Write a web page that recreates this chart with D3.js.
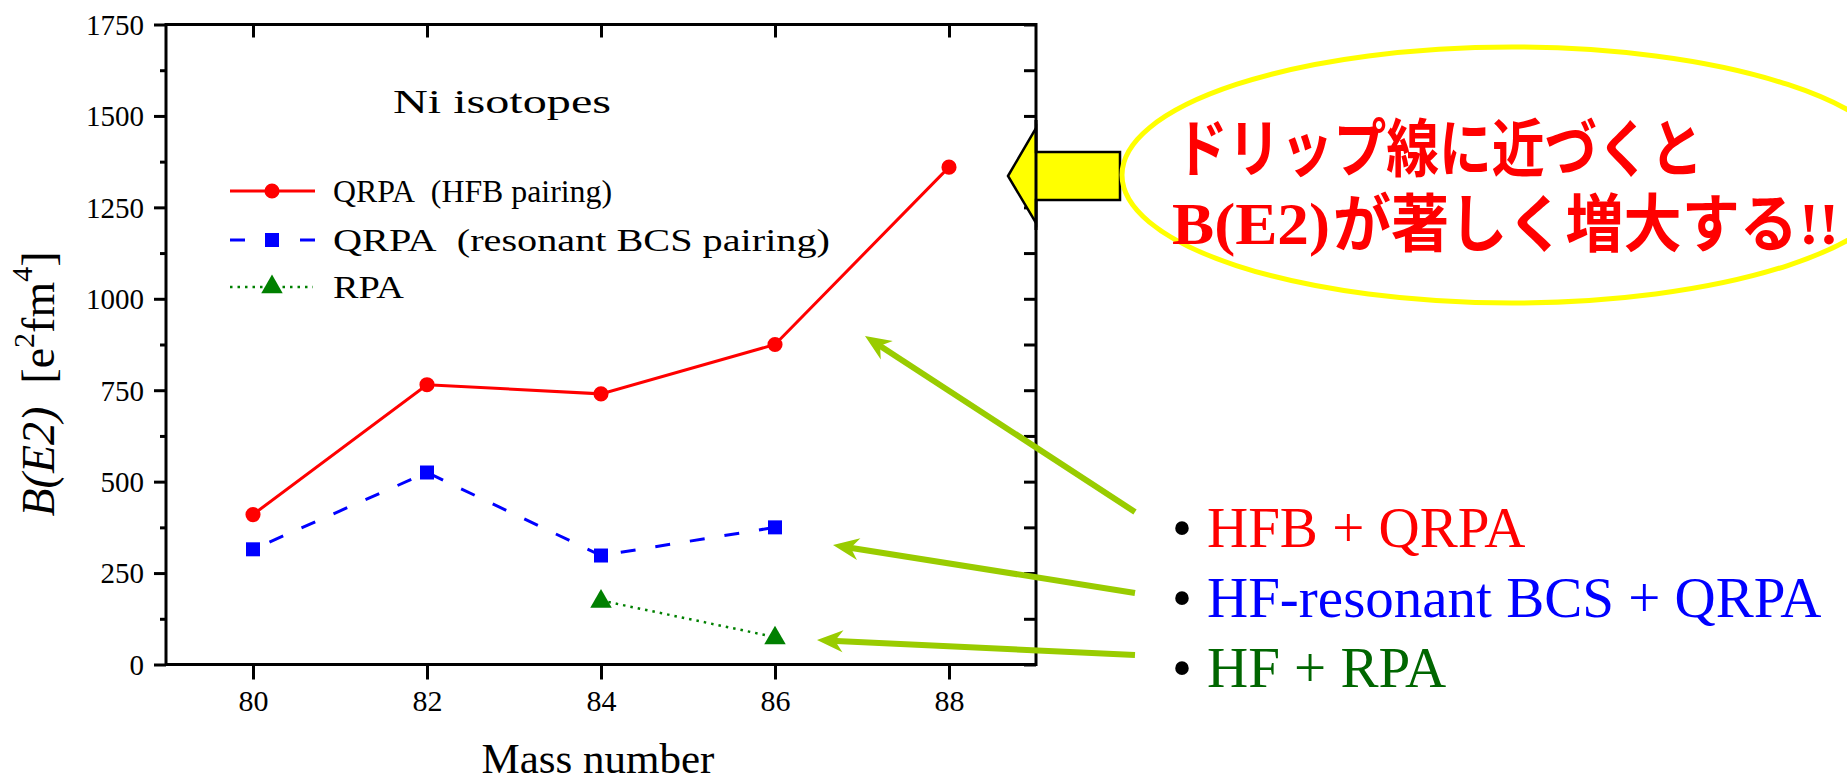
<!DOCTYPE html>
<html>
<head>
<meta charset="utf-8">
<script src="https://cdn.jsdelivr.net/npm/d3@7"></script>
<style>
  html, body { margin: 0; padding: 0; background: #ffffff; }
  svg { display: block; }
</style>
</head>
<body>
<svg id="chart" width="1847" height="782"></svg>
<script>
// ---------------- data ----------------
const massNumbers = [80, 82, 84, 86, 88];
const hfbQrpa = [410, 765, 740, 875, 1360];
const bcsMass = [80, 82, 84, 86];
const bcsQrpa = [315, 525, 298, 375];
const rpaMass = [84, 86];
const rpaValues = [175, 75];
const xTickValues = [80, 82, 84, 86, 88];
const yTickValues = [0, 250, 500, 750, 1000, 1250, 1500, 1750];
const yMinorTickValues = [125, 375, 625, 875, 1125, 1375, 1625];
const legendLabels = ["QRPA\u00a0\u00a0(HFB pairing)", "QRPA\u00a0\u00a0(resonant BCS pairing)", "RPA"];
const chartTitle = "Ni isotopes";
const xAxisTitle = "Mass number";
const bulletLabels = ["HFB + QRPA", "HF-resonant BCS + QRPA", "HF + RPA"];
const calloutLine1 = "ドリップ線に近づくと";
const calloutLine2a = "B(E2)";
const calloutLine2b = "が著しく増大する";
const calloutLine2c = "!!";

// ---------------- layout ----------------
const svg = d3.select("#chart");
const L = 166, R = 1036, T = 24.5, B = 664.5;
const x = d3.scaleLinear().domain([79, 89]).range([L, R]);
const y = d3.scaleLinear().domain([0, 1750]).range([B, T]);
const serif = '"Liberation Serif", "Times New Roman", serif';

const red = "#ff0000", blue = "#0000ff", green = "#008000", textGreen = "#006600";
const arrowGreen = "#99cc00";

// ---------------- axes ----------------
function styleAxis(g) {
  g.attr("font-family", serif);
  g.select(".domain").remove();
  g.selectAll(".tick line").attr("stroke", "#000").attr("stroke-width", 3);
}
// left major
svg.append("g").attr("transform", `translate(${L},0)`)
  .call(d3.axisLeft(y).tickValues(yTickValues).tickSize(12).tickPadding(10).tickFormat(d3.format("d")))
  .call(styleAxis)
  .call(g => g.selectAll("text").attr("font-family", serif).attr("font-size", 29).attr("fill", "#000").attr("dy", "0.34em"));
// left minor
svg.append("g").attr("transform", `translate(${L},0)`)
  .call(d3.axisLeft(y).tickValues(yMinorTickValues).tickSize(6).tickFormat(""))
  .call(styleAxis);
// right (inward)
svg.append("g").attr("transform", `translate(${R},0)`)
  .call(d3.axisLeft(y).tickValues(yTickValues.concat(yMinorTickValues)).tickSize(12).tickFormat(""))
  .call(styleAxis);
// bottom
svg.append("g").attr("transform", `translate(0,${B})`)
  .call(d3.axisBottom(x).tickValues(xTickValues).tickSize(15).tickFormat(d3.format("d")))
  .call(styleAxis)
  .call(g => g.selectAll("text").attr("font-family", serif).attr("font-size", 30).attr("fill", "#000").attr("y", 46).attr("dy", 0));
// top (inward)
svg.append("g").attr("transform", `translate(0,${T})`)
  .call(d3.axisBottom(x).tickValues(xTickValues).tickSize(13).tickFormat(""))
  .call(styleAxis);

// frame
svg.append("rect").attr("x", L).attr("y", T).attr("width", R - L).attr("height", B - T)
  .attr("fill", "none").attr("stroke", "#000").attr("stroke-width", 3);

// axis titles
svg.append("text").attr("x", 598).attr("y", 773).attr("text-anchor", "middle")
  .attr("font-family", serif).attr("font-size", 43).text(xAxisTitle);

const yt = svg.append("text").attr("transform", "translate(54,384) rotate(-90)")
  .attr("text-anchor", "middle").attr("font-family", serif).attr("font-size", 46);
yt.append("tspan").attr("font-style", "italic").text(calloutLine2a);
yt.append("tspan").text("\u00a0\u00a0[e");
yt.append("tspan").attr("dy", -20).attr("font-size", 30).text("2");
yt.append("tspan").attr("dy", 20).text("fm");
yt.append("tspan").attr("dy", -22).attr("font-size", 30).text("4");
yt.append("tspan").attr("dy", 22).text("]");

// chart title
svg.append("text").attr("x", 393).attr("y", 113).attr("font-family", serif)
  .attr("font-size", 33).attr("textLength", 218).attr("lengthAdjust", "spacingAndGlyphs").text(chartTitle);

// ---------------- series ----------------
const line = d3.line().x(d => x(d[0])).y(d => y(d[1]));
const hfbData = massNumbers.map((m, i) => [m, hfbQrpa[i]]);
const bcsData = bcsMass.map((m, i) => [m, bcsQrpa[i]]);
const rpaData = rpaMass.map((m, i) => [m, rpaValues[i]]);

svg.append("path").datum(hfbData).attr("d", line).attr("fill", "none")
  .attr("stroke", red).attr("stroke-width", 3);
svg.append("path").datum(bcsData).attr("d", line).attr("fill", "none")
  .attr("stroke", blue).attr("stroke-width", 3).attr("stroke-dasharray", "15,20").attr("stroke-dashoffset", -18);
svg.append("path").datum(rpaData).attr("d", line).attr("fill", "none")
  .attr("stroke", green).attr("stroke-width", 2.5).attr("stroke-dasharray", "2.5,5");

const circle = d3.symbol().type(d3.symbolCircle).size(180);
const square = d3.symbol().type(d3.symbolSquare).size(196);
const tri = d3.symbol().type(d3.symbolTriangle).size(200);

svg.selectAll(".hfb").data(hfbData).join("path").attr("class", "hfb")
  .attr("transform", d => `translate(${x(d[0])},${y(d[1])})`).attr("d", circle).attr("fill", red);
svg.selectAll(".bcs").data(bcsData).join("path").attr("class", "bcs")
  .attr("transform", d => `translate(${x(d[0])},${y(d[1])})`).attr("d", square).attr("fill", blue);
svg.selectAll(".rpa").data(rpaData).join("path").attr("class", "rpa")
  .attr("transform", d => `translate(${x(d[0])},${y(d[1]) + 1})`).attr("d", tri).attr("fill", green);

// ---------------- legend ----------------
const legY = [191, 240, 287];
const legLen = [279, 497, 71];
const lg = svg.append("g");
// red
lg.append("line").attr("x1", 230).attr("x2", 315).attr("y1", legY[0]).attr("y2", legY[0]).attr("stroke", red).attr("stroke-width", 3);
lg.append("path").attr("transform", `translate(272,${legY[0]})`).attr("d", circle).attr("fill", red);
// blue
lg.append("line").attr("x1", 230).attr("x2", 245).attr("y1", legY[1]).attr("y2", legY[1]).attr("stroke", blue).attr("stroke-width", 3);
lg.append("line").attr("x1", 300).attr("x2", 315).attr("y1", legY[1]).attr("y2", legY[1]).attr("stroke", blue).attr("stroke-width", 3);
lg.append("path").attr("transform", `translate(272,${legY[1]})`).attr("d", square).attr("fill", blue);
// green
lg.append("line").attr("x1", 230).attr("x2", 313).attr("y1", legY[2]).attr("y2", legY[2]).attr("stroke", green).attr("stroke-width", 2.5).attr("stroke-dasharray", "2.5,5");
lg.append("path").attr("transform", `translate(272,${legY[2]})`).attr("d", tri).attr("fill", green);
legendLabels.forEach((t, i) => {
  lg.append("text").attr("x", 333).attr("y", legY[i] + 11).attr("font-family", serif)
    .attr("font-size", 31).attr("textLength", legLen[i]).attr("lengthAdjust", "spacingAndGlyphs").text(t);
});

// ---------------- annotations ----------------
// yellow block arrow
svg.append("path")
  .attr("d", "M1008,176 L1036,128 L1036,152 L1120,152 L1120,200 L1036,200 L1036,223 Z")
  .attr("fill", "#ffff00").attr("stroke", "#000").attr("stroke-width", 2.5).attr("stroke-linejoin", "miter");
svg.append("line").attr("x1", R).attr("x2", R).attr("y1", 120).attr("y2", 230).attr("stroke", "#000").attr("stroke-width", 3);

// yellow ellipse
svg.append("ellipse").attr("cx", 1512).attr("cy", 175).attr("rx", 390).attr("ry", 128)
  .attr("fill", "none").attr("stroke", "#ffff00").attr("stroke-width", 5);

const jp = '"Noto Sans CJK JP", "Noto Sans CJK SC", sans-serif';
svg.append("text").attr("x", 1175).attr("y", 171).attr("font-family", jp).attr("font-weight", "bold")
  .attr("font-size", 63).attr("fill", red).attr("textLength", 528).attr("lengthAdjust", "spacingAndGlyphs")
  .text(calloutLine1);
svg.append("text").attr("x", 1172).attr("y", 244).attr("font-family", serif).attr("font-weight", "bold")
  .attr("font-size", 60).attr("fill", red).attr("textLength", 158).attr("lengthAdjust", "spacingAndGlyphs")
  .text(calloutLine2a);
svg.append("text").attr("x", 1333).attr("y", 246).attr("font-family", jp).attr("font-weight", "bold")
  .attr("font-size", 63).attr("fill", red).attr("textLength", 465).attr("lengthAdjust", "spacingAndGlyphs")
  .text(calloutLine2b);
svg.append("text").attr("x", 1799).attr("y", 244).attr("font-family", serif).attr("font-weight", "bold")
  .attr("font-size", 60).attr("fill", red).text(calloutLine2c);

// bullets
const bulletColors = [red, blue, textGreen];
const bulletBase = [547, 617, 687];
bulletLabels.forEach((t, i) => {
  svg.append("text").attr("x", 1172).attr("y", bulletBase[i]).attr("font-family", serif)
    .attr("font-size", 57).attr("fill", "#000").text("\u2022");
  svg.append("text").attr("x", 1207).attr("y", bulletBase[i]).attr("font-family", serif)
    .attr("font-size", 57).attr("fill", bulletColors[i]).text(t);
});

// green pointer arrows
const pointers = [
  { from: [1135, 512], to: [865, 336] },
  { from: [1135, 593], to: [833, 545] },
  { from: [1135, 655], to: [817, 640] }
];
pointers.forEach(p => {
  const dx = p.to[0] - p.from[0], dy = p.to[1] - p.from[1];
  const len = Math.hypot(dx, dy);
  const ux = dx / len, uy = dy / len, nx = -uy, ny = ux;
  const hl = 26, hw = 11;
  const bx = p.to[0] - ux * hl, by = p.to[1] - uy * hl;
  svg.append("line").attr("x1", p.from[0]).attr("y1", p.from[1])
    .attr("x2", p.to[0] - ux * 14).attr("y2", p.to[1] - uy * 14)
    .attr("stroke", arrowGreen).attr("stroke-width", 6);
  svg.append("path")
    .attr("d", `M${p.to[0]},${p.to[1]} L${bx + nx * hw},${by + ny * hw} L${p.to[0] - ux * 18},${p.to[1] - uy * 18} L${bx - nx * hw},${by - ny * hw} Z`)
    .attr("fill", arrowGreen);
});
</script>
</body>
</html>
